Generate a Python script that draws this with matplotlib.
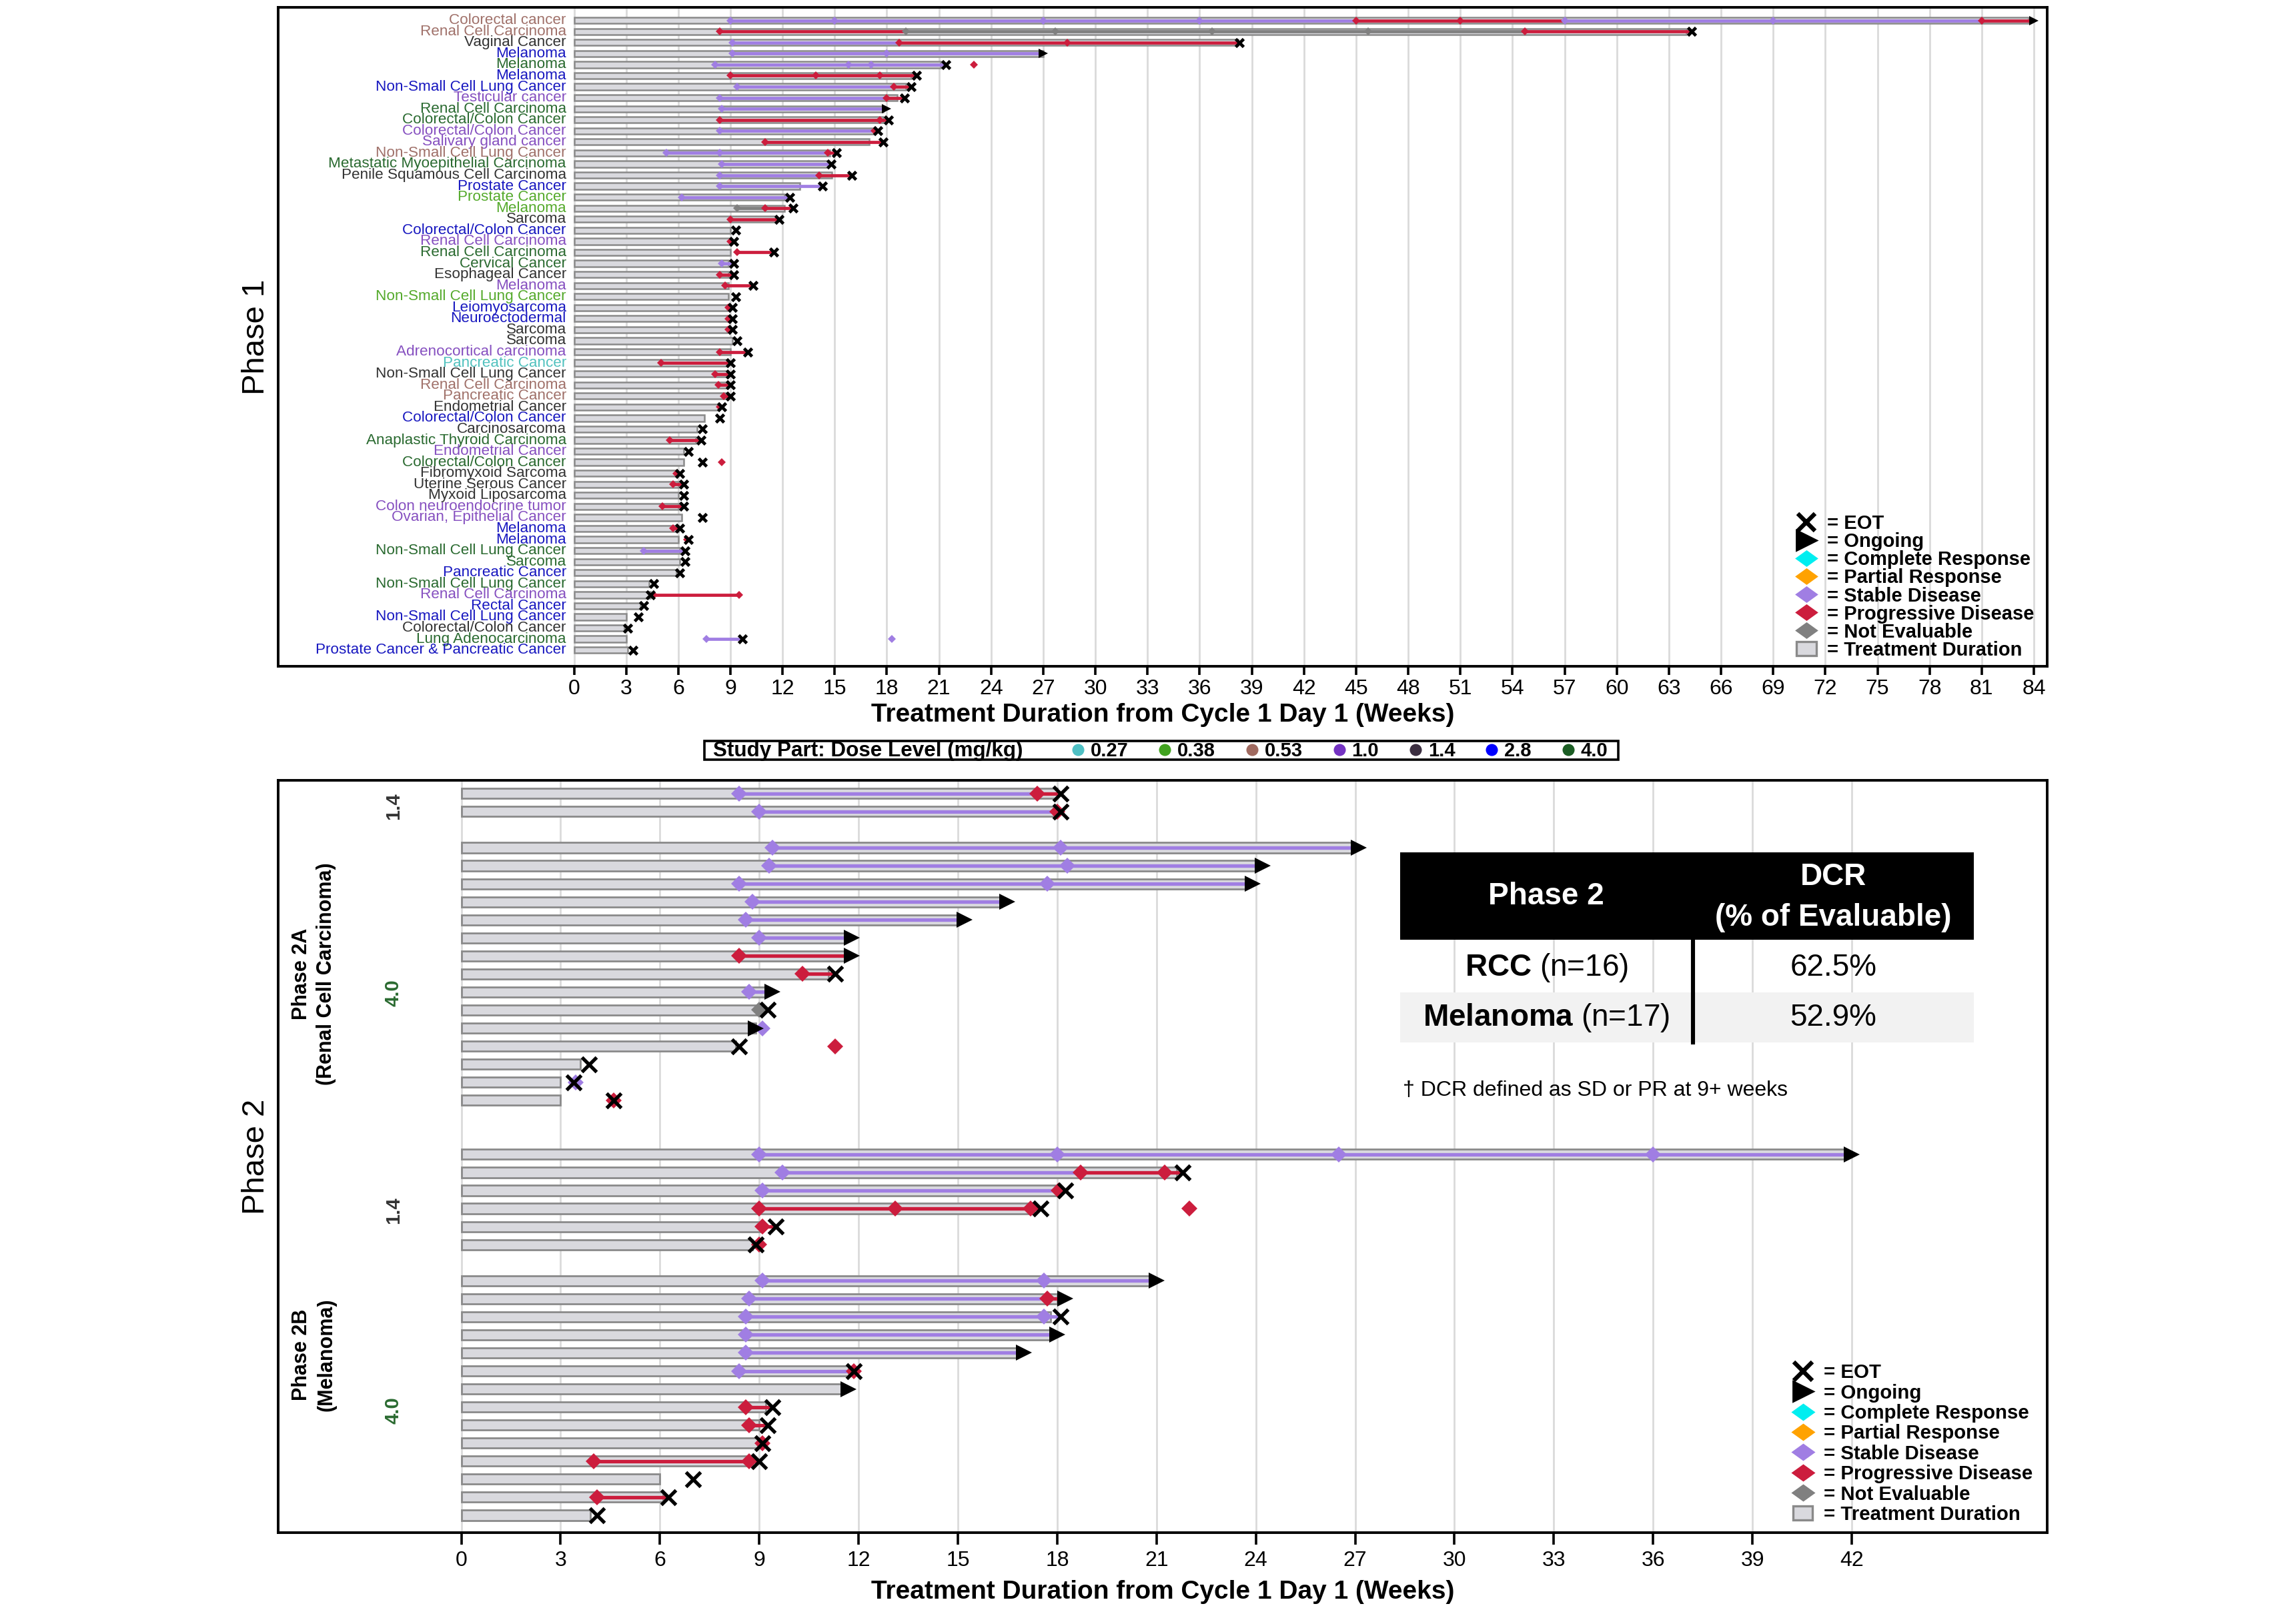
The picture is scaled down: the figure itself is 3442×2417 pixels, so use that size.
"""Swimmer plot: phase 1 dose escalation and phase 2 expansion cohorts."""

import matplotlib
matplotlib.use("Agg")
import matplotlib.pyplot as plt
from matplotlib.lines import Line2D
from matplotlib.patches import Patch, Rectangle

plt.rcParams["font.family"] = ["Liberation Sans", "DejaVu Sans"]
plt.rcParams["mathtext.fontset"] = "custom"
plt.rcParams["mathtext.rm"] = "Liberation Sans"
plt.rcParams["mathtext.bf"] = "Liberation Sans:bold"

# ---------------- phase 1 ----------------
p1_labels = [
    "Colorectal cancer", "Renal Cell Carcinoma", "Vaginal Cancer", "Melanoma", "Melanoma",
    "Melanoma", "Non-Small Cell Lung Cancer", "Testicular cancer", "Renal Cell Carcinoma",
    "Colorectal/Colon Cancer", "Colorectal/Colon Cancer", "Salivary gland cancer",
    "Non-Small Cell Lung Cancer", "Metastatic Myoepithelial Carcinoma",
    "Penile Squamous Cell Carcinoma", "Prostate Cancer", "Prostate Cancer", "Melanoma",
    "Sarcoma", "Colorectal/Colon Cancer", "Renal Cell Carcinoma", "Renal Cell Carcinoma",
    "Cervical Cancer", "Esophageal Cancer", "Melanoma", "Non-Small Cell Lung Cancer",
    "Leiomyosarcoma", "Neuroectodermal", "Sarcoma", "Sarcoma", "Adrenocortical carcinoma",
    "Pancreatic Cancer", "Non-Small Cell Lung Cancer", "Renal Cell Carcinoma",
    "Pancreatic Cancer", "Endometrial Cancer", "Colorectal/Colon Cancer", "Carcinosarcoma",
    "Anaplastic Thyroid Carcinoma", "Endometrial Cancer", "Colorectal/Colon Cancer",
    "Fibromyxoid Sarcoma", "Uterine Serous Cancer", "Myxoid Liposarcoma",
    "Colon neuroendocrine tumor", "Ovarian, Epithelial Cancer", "Melanoma", "Melanoma",
    "Non-Small Cell Lung Cancer", "Sarcoma", "Pancreatic Cancer", "Non-Small Cell Lung Cancer",
    "Renal Cell Carcinoma", "Rectal Cancer", "Non-Small Cell Lung Cancer",
    "Colorectal/Colon Cancer", "Lung Adenocarcinoma", "Prostate Cancer & Pancreatic Cancer",
]
p1_dose = [
    "0.53", "0.53", "1.4", "2.8", "4.0", "2.8", "2.8", "1.0", "4.0", "4.0",
    "1.0", "1.0", "0.53", "4.0", "1.4", "2.8", "0.38", "0.38", "1.4", "2.8",
    "1.0", "4.0", "4.0", "1.4", "1.0", "0.38", "2.8", "2.8", "1.4", "1.4",
    "1.0", "0.27", "1.4", "0.53", "0.53", "1.4", "2.8", "1.4", "4.0", "1.0",
    "4.0", "1.4", "1.4", "1.4", "1.0", "1.0", "2.8", "2.8", "4.0", "4.0",
    "2.8", "4.0", "1.0", "2.8", "2.8", "1.4", "4.0", "2.8",
]
p1_bar = [
    83.7, 64.0, 38.2, 27.0, 21.1, 19.4, 19.1, 18.6, 17.8, 17.8,
    17.3, 17.0, 14.7, 14.6, 14.85, 13.0, 12.1, 12.1, 11.6, 9.0,
    9.0, 9.0, 8.9, 8.9, 8.9, 8.9, 8.8, 8.8, 8.8, 9.1,
    9.0, 8.8, 8.8, 8.8, 8.8, 8.3, 7.5, 7.1, 7.0, 6.3,
    6.3, 5.9, 6.0, 6.0, 6.0, 6.2, 6.0, 6.0, 6.1, 6.1,
    5.9, 4.3, 4.4, 3.8, 3.0, 2.9, 3.0, 3.1,
]
p1_end = [
    84.0, 64.3, 38.3, 27.0, 21.4, 19.7, 19.4, 19.0, 18.0, 18.1,
    17.5, 17.8, 15.1, 14.8, 16.0, 14.3, 12.4, 12.6, 11.8, 9.3,
    9.2, 11.5, 9.2, 9.2, 10.3, 9.3, 9.1, 9.1, 9.1, 9.4,
    10.0, 9.0, 9.0, 9.0, 9.0, 8.5, 8.4, 7.4, 7.3, 6.6,
    7.4, 6.1, 6.3, 6.3, 6.3, 7.4, 6.1, 6.6, 6.4, 6.4,
    6.1, 4.6, 4.4, 4.0, 3.7, 3.1, 9.7, 3.4,
]
p1_ongoing = [0, 3, 8]
p1_visits = [
    [(9, "SD"), (15, "SD"), (27, "SD"), (36, "SD"), (45, "PD"), (51, "PD"), (57, "SD"), (69, "SD"), (81, "PD")],
    [(8.4, "PD"), (19.1, "NE"), (27.7, "NE"), (36.7, "NE"), (45.7, "NE"), (54.7, "PD")],
    [(9.1, "SD"), (18.7, "PD"), (28.4, "PD")],
    [(9.1, "SD"), (18.0, "SD")],
    [(8.1, "SD"), (15.8, "SD"), (17.1, "SD"), (23.0, "PD")],
    [(9.0, "PD"), (13.9, "PD"), (17.6, "PD")],
    [(9.4, "SD"), (18.4, "PD")],
    [(8.4, "SD"), (18.0, "PD")],
    [(8.5, "SD")],
    [(8.4, "PD"), (17.6, "PD")],
    [(8.4, "SD"), (17.3, "PD")],
    [(11.0, "PD")],
    [(5.3, "SD"), (8.4, "SD"), (14.6, "PD")],
    [(8.5, "SD")],
    [(8.4, "SD"), (14.1, "PD")],
    [(8.4, "SD")],
    [(6.2, "SD")],
    [(9.4, "NE"), (11.0, "PD")],
    [(9.0, "PD")],
    [],
    [(9.0, "PD")],
    [(9.4, "PD")],
    [(8.5, "SD")],
    [(8.4, "PD")],
    [(8.7, "PD")],
    [],
    [(8.9, "PD")],
    [(8.9, "PD")],
    [(8.9, "PD")],
    [],
    [(8.4, "PD")],
    [(5.0, "PD")],
    [(8.1, "PD")],
    [(8.3, "PD")],
    [(8.6, "PD")],
    [(8.4, "PD")],
    [],
    [],
    [(5.5, "PD")],
    [],
    [(8.5, "PD")],
    [(5.9, "PD")],
    [(5.7, "PD")],
    [],
    [(5.1, "PD")],
    [],
    [(5.7, "PD")],
    [(6.5, "PD")],
    [(4.0, "SD")],
    [],
    [],
    [],
    [(4.6, "PD"), (9.5, "PD")],
    [],
    [],
    [],
    [(7.6, "SD"), (18.3, "SD")],
    [],
]
# response line normally stops at the end marker; one patient continued past EOT
p1_line_stop = list(p1_end)
p1_line_stop[52] = 9.5

# ---------------- phase 2 ----------------
p2_group_sizes = [2, 15, 6, 14]
p2_group_gaps = [0, 1, 2, 1]
p2_bar = [
    18.0, 18.0, 26.9, 24.0, 23.7, 16.3, 15.0, 11.6, 11.6, 11.1, 9.2, 9.0, 8.9, 8.3, 3.6, 3.0, 3.0,
    41.8, 21.6, 18.1, 17.3, 9.1, 8.8, 20.8, 18.0, 17.8, 17.8, 16.8, 11.7, 11.5, 9.2, 9.0, 9.0,
    8.8, 6.0, 6.1, 3.9,
]
p2_end = [
    18.1, 18.1, 27.1, 24.2, 23.9, 16.5, 15.2, 11.8, 11.8, 11.3, 9.4, 9.25, 8.9, 8.4, 3.85, 3.4, 4.6,
    42.0, 21.8, 18.25, 17.5, 9.5, 8.9, 21.0, 18.25, 18.1, 18.0, 17.0, 11.85, 11.7, 9.4, 9.25, 9.1,
    9.0, 7.0, 6.25, 4.1,
]
p2_ongoing = [2, 3, 4, 5, 6, 7, 8, 10, 12, 17, 23, 24, 26, 27, 29]
p2_visits = [
    [(8.4, "SD"), (17.4, "PD")],
    [(9.0, "SD"), (18.0, "PD")],
    [(9.4, "SD"), (18.1, "SD")],
    [(9.3, "SD"), (18.3, "SD")],
    [(8.4, "SD"), (17.7, "SD")],
    [(8.8, "SD")],
    [(8.6, "SD")],
    [(9.0, "SD")],
    [(8.4, "PD")],
    [(10.3, "PD")],
    [(8.7, "SD")],
    [(9.0, "NE")],
    [(9.1, "SD")],
    [(11.3, "PD")],
    [],
    [(3.45, "SD")],
    [(4.6, "PD")],
    [(9.0, "SD"), (18.0, "SD"), (26.5, "SD"), (36.0, "SD")],
    [(9.7, "SD"), (18.7, "PD"), (21.25, "PD")],
    [(9.1, "SD"), (18.05, "PD")],
    [(9.0, "PD"), (13.1, "PD"), (17.2, "PD"), (22.0, "PD")],
    [(9.1, "PD")],
    [(9.0, "PD")],
    [(9.1, "SD"), (17.6, "SD")],
    [(8.7, "SD"), (17.7, "PD")],
    [(8.6, "SD"), (17.6, "SD")],
    [(8.6, "SD")],
    [(8.6, "SD")],
    [(8.4, "SD"), (11.85, "PD")],
    [],
    [(8.6, "PD")],
    [(8.7, "PD")],
    [(9.1, "PD")],
    [(4.0, "PD"), (8.7, "PD")],
    [],
    [(4.1, "PD")],
    [],
]

dose_levels = ["0.27", "0.38", "0.53", "1.0", "1.4", "2.8", "4.0"]
dose_dot_colors = ["#4fc0c4", "#41a320", "#a06a60", "#7433c2", "#3b2e40", "#0000ff", "#1b5d24"]
dose_text_colors = ["#52c2bf", "#55aa2c", "#a0716a", "#8650c0", "#333333", "#1818c0", "#2a6a30"]

table_rows = ["RCC", "Melanoma"]
table_n = [16, 17]
table_dcr = [62.5, 52.9]

RESP = {"CR": "#00eef0", "PR": "#ffa200", "SD": "#a07ee3", "PD": "#cc1d3d", "NE": "#808080"}
BAR_FILL = "#d9d9de"
BAR_EDGE = "#8a8a8a"
WIDE_DIAMOND = [(-1, 0), (0, 0.72), (1, 0), (0, -0.72), (-1, 0)]

W, H = 1568, 1101  # reference layout grid


def fx(x):
    return x / W


def fy(y):
    return 1 - y / H


def draw_swimmers(ax, ys, bars, ends, ongoing, visits, stops, sz):
    ax.barh(ys, bars, height=0.56, color=BAR_FILL, edgecolor=BAR_EDGE, linewidth=sz["edge"], zorder=2)
    for y, vis, stop in zip(ys, visits, stops):
        on = [(w, c) for w, c in vis if w <= stop + 1e-9]
        for i, (w, c) in enumerate(on):
            nxt = on[i + 1][0] if i + 1 < len(on) else stop
            ax.plot([w, nxt], [y, y], color=RESP[c], lw=sz["line"], solid_capstyle="butt", zorder=3)
        for w, c in vis:
            ax.plot(w, y, marker="D", ms=sz["diamond"], color=RESP[c], mew=0, ls="none", zorder=4)
    for i, (y, e) in enumerate(zip(ys, ends)):
        if i in ongoing:
            ax.plot(e, y, marker=">", ms=sz["tri"], color="black", mew=0, ls="none", zorder=5)
        else:
            ax.plot(e, y, marker="x", ms=sz["x"], color="black", mew=sz["xw"], ls="none", zorder=5)


def style_axis(ax, ticks, xlim, ylim, tick_len, pad, labelpad):
    ax.set_xlim(*xlim)
    ax.set_ylim(*ylim)
    ax.set_xticks(ticks)
    ax.set_yticks([])
    ax.set_axisbelow(True)
    ax.xaxis.grid(True, color="#dadada", lw=1.0)
    ax.tick_params(axis="x", labelsize=11.5, length=tick_len, width=1.3, direction="out", pad=pad)
    for s in ax.spines.values():
        s.set_linewidth(1.4)
    ax.set_xlabel("Treatment Duration from Cycle 1 Day 1 (Weeks)", fontsize=14,
                  fontweight="bold", labelpad=labelpad)


def add_response_legend(ax, fs, ms, spacing, anchor):
    handles = [
        Line2D([], [], marker="x", color="black", ls="none", ms=ms * 0.75, mew=2.3),
        Line2D([], [], marker=">", color="black", ls="none", ms=ms * 0.85),
    ]
    for c in ["CR", "PR", "SD", "PD", "NE"]:
        handles.append(Line2D([], [], marker=WIDE_DIAMOND, color=RESP[c], ls="none", ms=ms, mew=0))
    handles.append(Patch(facecolor=BAR_FILL, edgecolor=BAR_EDGE, linewidth=1.2))
    labels = ["= EOT", "= Ongoing", "= Complete Response", "= Partial Response",
              "= Stable Disease", "= Progressive Disease", "= Not Evaluable",
              "= Treatment Duration"]
    ax.legend(handles, labels, loc="lower right", bbox_to_anchor=anchor, frameon=False,
              prop={"weight": "bold", "size": fs}, labelspacing=spacing, handlelength=1.0,
              handleheight=0.75, handletextpad=0.55, borderpad=0, borderaxespad=0)


fig = plt.figure(figsize=(3442 / 200, 2417 / 200), dpi=200)

# ---------- top panel ----------
ax1 = fig.add_axes([fx(190), fy(455), fx(1208), 450 / H])
p1_y = list(range(len(p1_labels)))
draw_swimmers(ax1, p1_y, p1_bar, p1_end, p1_ongoing, p1_visits, p1_line_stop,
              {"edge": 0.9, "line": 1.7, "diamond": 3.0, "tri": 4.8, "x": 4.4, "xw": 1.7})
label_color = dict(zip(dose_levels, dose_text_colors))
for y, lab, d in zip(p1_y, p1_labels, p1_dose):
    ax1.text(-0.45, y, lab, ha="right", va="center", fontsize=8.1, color=label_color[d])
style_axis(ax1, range(0, 85, 3), (-17.02, 84.76), (len(p1_labels) - 1 + 1.46, -1.19), 4.5, 2.5, 2)
add_response_legend(ax1, 10.5, 12.5, -0.03, (0.9925, 0.01))
fig.text(fx(175), fy(230), "Phase 1", rotation=90, ha="center", va="center", fontsize=17)

# ---------- dose legend ----------
fig.patches.append(Rectangle((fx(481), fy(519)), fx(624), 13 / H, transform=fig.transFigure,
                             facecolor="white", edgecolor="black", linewidth=1.3))
fig.text(fx(487), fy(512.8), "Study Part: Dose Level (mg/kg)", ha="left", va="center",
         fontsize=11.3, fontweight="bold")
dose_handles = [Line2D([], [], marker="o", ls="none", ms=6.5, color=c, mew=0) for c in dose_dot_colors]
fig.legend(dose_handles, dose_levels, loc="center left", bbox_to_anchor=(fx(732), fy(512.8)),
           ncol=len(dose_levels), frameon=False, prop={"weight": "bold", "size": 10.5},
           handlelength=0.6, handletextpad=0.35, columnspacing=1.58, borderpad=0, borderaxespad=0)

# ---------- bottom panel ----------
ax2 = fig.add_axes([fx(190), fy(1047), fx(1208), 514 / H])
p2_y = []
cur = 0
for size, gap in zip(p2_group_sizes, p2_group_gaps):
    cur += gap
    p2_y.extend(range(cur, cur + size))
    cur += size
draw_swimmers(ax2, p2_y, p2_bar, p2_end, p2_ongoing, p2_visits, p2_end,
              {"edge": 1.0, "line": 1.9, "diamond": 6.0, "tri": 8.5, "x": 8.0, "xw": 1.9})
style_axis(ax2, range(0, 43, 3), (-5.53, 47.9), (p2_y[-1] + 0.98, -0.73), 6.5, 3.0, 5)
add_response_legend(ax2, 10.6, 13.0, 0.08, (0.9917, 0.012))
fig.text(fx(175), fy(790), "Phase 2", rotation=90, ha="center", va="center", fontsize=17)

ax2.text(-4.45, 10.0, "Phase 2A\n(Renal Cell Carcinoma)", rotation=90, ha="center", va="center",
         fontsize=11, fontweight="bold", linespacing=1.3)
ax2.text(-4.45, 31.1, "Phase 2B\n(Melanoma)", rotation=90, ha="center", va="center",
         fontsize=11, fontweight="bold", linespacing=1.3)
for yy, d in [(0.7, "1.4"), (11.06, "4.0"), (23.1, "1.4"), (34.2, "4.0")]:
    ax2.text(-2.05, yy, d, rotation=90, ha="center", va="center", fontsize=10.5, fontweight="bold",
             color=label_color[d])

# ---------- DCR table ----------
fig.patches.append(Rectangle((fx(956), fy(642)), fx(392), 60 / H, transform=fig.transFigure,
                             facecolor="black", edgecolor="none"))
fig.patches.append(Rectangle((fx(956), fy(712)), fx(392), 34 / H, transform=fig.transFigure,
                             facecolor="#f2f2f2", edgecolor="none"))
fig.add_artist(Line2D([fx(1156), fx(1156)], [fy(642), fy(712)], color="black", lw=2.2))
fig.text(fx(1056), fy(612), "Phase 2", ha="center", va="center", color="white",
         fontsize=16.5, fontweight="bold")
dcr = fig.text(fx(1252), fy(599), "DCR", ha="center", va="center", color="white",
               fontsize=16.5, fontweight="bold")
fig.text(fx(1252), fy(627), "(% of Evaluable)", ha="center", va="center", color="white",
         fontsize=16.5, fontweight="bold")
plt.annotate("\u2020", xy=(1.0, 1.0), xycoords=dcr, ha="left", va="top", color="white",
             fontsize=10)
for i, (name, n, v) in enumerate(zip(table_rows, table_n, table_dcr)):
    yc = 661 + i * 34
    fig.text(fx(1056), fy(yc), rf"$\mathbf{{{name}}}$ (n={n})", ha="center", va="center",
             fontsize=16.5)
    fig.text(fx(1252), fy(yc), f"{v:.1f}%", ha="center", va="center", fontsize=16.5)
fig.text(fx(958), fy(745), "\u2020 DCR defined as SD or PR at 9+ weeks", ha="left", va="center",
         fontsize=11.5)

fig.savefig("out.png", dpi=200)
